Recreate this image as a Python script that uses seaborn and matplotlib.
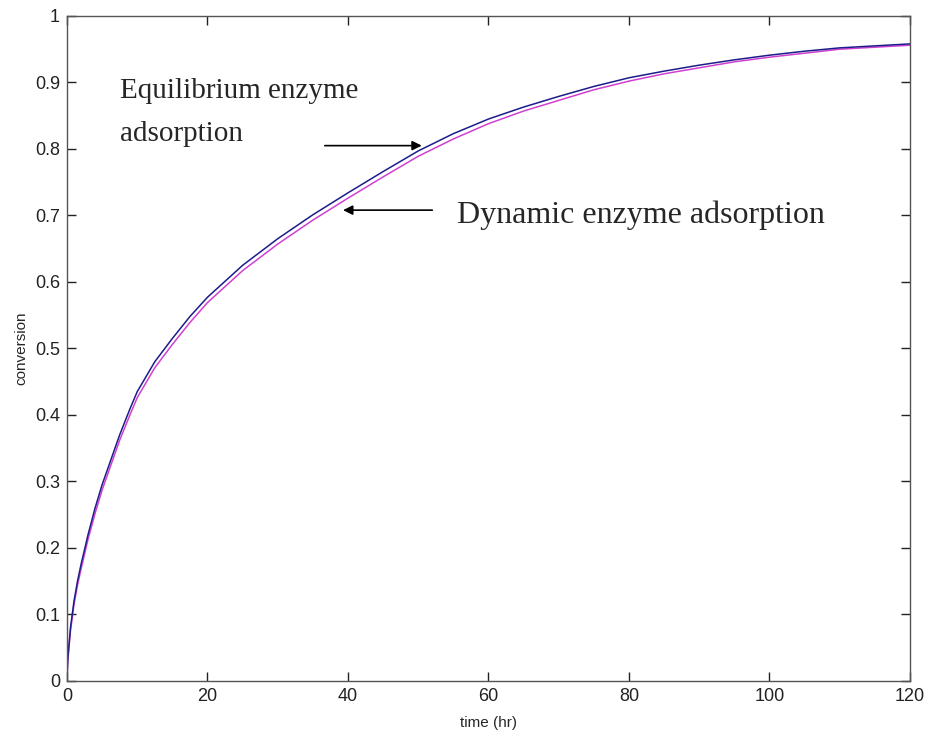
import matplotlib
matplotlib.use("Agg")
import matplotlib.pyplot as plt
import seaborn as sns
import pandas as pd

# Simulated conversion histories for the two adsorption models
time_hr = [0, 0.1, 0.25, 0.5, 0.75, 1, 1.5, 2, 3, 4, 5, 6, 7.5, 9, 10, 12.5, 15, 17.5,
           20, 25, 30, 35, 40, 45, 50, 55, 60, 65, 70, 75, 80, 85, 90, 95, 100, 105,
           110, 115, 120]
equilibrium = [0, 0.03, 0.05, 0.08, 0.10, 0.12, 0.15, 0.175, 0.22, 0.26, 0.295, 0.325,
               0.37, 0.41, 0.435, 0.48, 0.515, 0.548, 0.577, 0.625, 0.665, 0.701, 0.734,
               0.766, 0.797, 0.823, 0.845, 0.863, 0.879, 0.894, 0.907, 0.917, 0.926,
               0.934, 0.941, 0.947, 0.952, 0.955, 0.958]
dynamic = [0, 0.027, 0.046, 0.075, 0.095, 0.115, 0.144, 0.168, 0.213, 0.252, 0.287, 0.317,
           0.362, 0.401, 0.426, 0.471, 0.506, 0.539, 0.569, 0.617, 0.657, 0.693, 0.726,
           0.758, 0.789, 0.815, 0.838, 0.857, 0.873, 0.889, 0.902, 0.913, 0.922, 0.931,
           0.938, 0.944, 0.950, 0.953, 0.956]

x_ticks = [0, 20, 40, 60, 80, 100, 120]
y_ticks = [0, 0.1, 0.2, 0.3, 0.4, 0.5, 0.6, 0.7, 0.8, 0.9, 1]
y_tick_labels = ["0", "0.1", "0.2", "0.3", "0.4", "0.5", "0.6", "0.7", "0.8", "0.9", "1"]

df = pd.DataFrame({
    "time": time_hr * 2,
    "conversion": equilibrium + dynamic,
    "model": ["equilibrium"] * len(time_hr) + ["dynamic"] * len(time_hr),
})

sns.set_style("ticks")
plt.rcParams["font.family"] = ["Liberation Sans", "DejaVu Sans"]

fig = plt.figure(figsize=(9.3, 7.35), dpi=100)
ax = fig.add_axes([0.072, 0.0735, 0.9065, 0.9048])

sns.lineplot(data=df, x="time", y="conversion", hue="model",
             palette={"equilibrium": "#1c1c8a", "dynamic": "#d040d0"},
             hue_order=["dynamic", "equilibrium"],
             linewidth=1.1, legend=False, ax=ax)

ax.set_xlim(0, 120)
ax.set_ylim(0, 1)
ax.set_xticks(x_ticks)
ax.set_xticklabels([str(t) for t in x_ticks])
ax.set_yticks(y_ticks)
ax.set_yticklabels(y_tick_labels)
ax.tick_params(direction="in", length=6.5, width=1, top=True, right=True,
               labelsize=13, colors="#222222", pad=5)
for s in ax.spines.values():
    s.set_visible(True)
    s.set_color("#555555")
    s.set_linewidth(1.0)

ax.set_xlabel("time (hr)", fontsize=11, labelpad=8)
ax.set_ylabel("conversion", fontsize=11, labelpad=5)

serif = ["Liberation Serif", "DejaVu Serif"]
ax.text(7.5, 0.907, "Equilibrium enzyme\nadsorption", family=serif, fontsize=21,
        va="top", ha="left", linespacing=1.85)
ax.text(55.5, 0.700, "Dynamic enzyme adsorption", family=serif, fontsize=23,
        va="center", ha="left")

arrow_style = dict(arrowstyle="-|>", color="black", lw=1.2, mutation_scale=14,
                   shrinkA=0, shrinkB=0)
ax.annotate("", xy=(50.5, 0.805), xytext=(36.7, 0.805), arrowprops=arrow_style)
ax.annotate("", xy=(39.3, 0.708), xytext=(52.0, 0.708), arrowprops=arrow_style)

fig.savefig("out.png", dpi=100)
